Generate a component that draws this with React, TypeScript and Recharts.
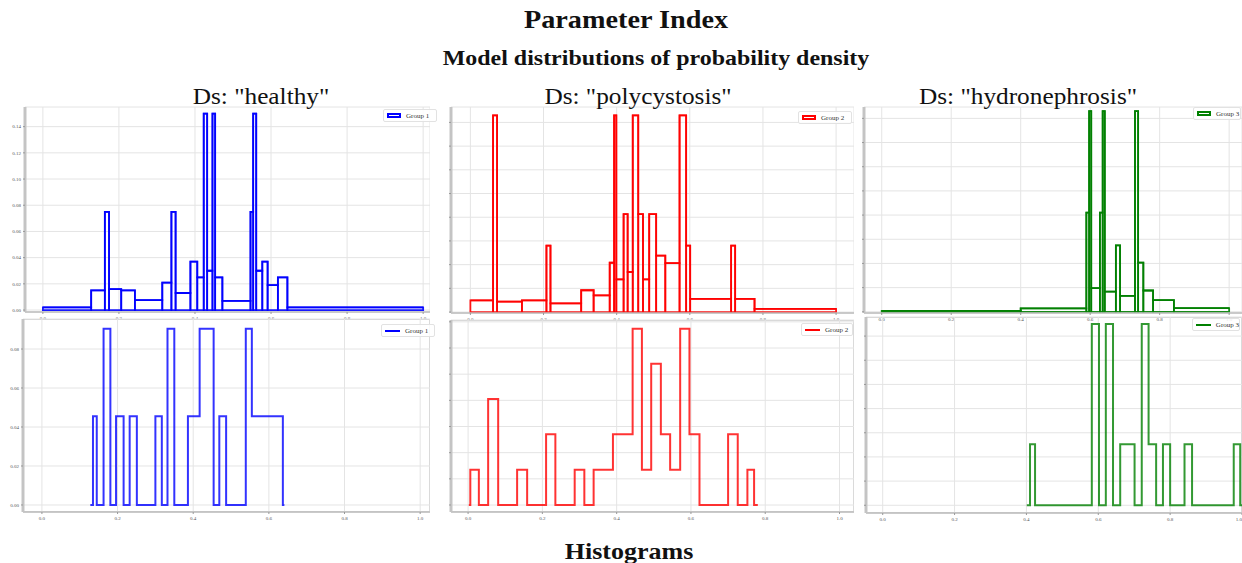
import {
  ComposedChart,
  Line,
  XAxis,
  YAxis,
  CartesianGrid,
  ReferenceArea,
} from "recharts";

// top row: model densities (variable-width bins)
const healthyEdges = [0.0, 0.127, 0.163, 0.174, 0.206, 0.242, 0.314, 0.338, 0.349, 0.388, 0.406, 0.423, 0.432, 0.446, 0.453, 0.472, 0.546, 0.553, 0.561, 0.577, 0.591, 0.618, 0.643, 1.0];
const healthyDensity = [0.002, 0.015, 0.075, 0.016, 0.015, 0.0075, 0.021, 0.075, 0.013, 0.037, 0.025, 0.15, 0.03, 0.15, 0.025, 0.007, 0.075, 0.15, 0.03, 0.037, 0.019, 0.025, 0.002];

const polyEdges = [0.0, 0.062, 0.073, 0.141, 0.208, 0.219, 0.303, 0.337, 0.381, 0.393, 0.399, 0.419, 0.43, 0.444, 0.459, 0.472, 0.489, 0.508, 0.533, 0.572, 0.59, 0.601, 0.713, 0.724, 0.777, 1.0];
const polyDensity = [0.49, 8.3, 0.44, 0.49, 2.8, 0.37, 0.92, 0.7, 2.08, 8.3, 1.38, 4.13, 1.69, 8.3, 4.13, 1.38, 4.13, 2.38, 2.06, 8.3, 2.8, 0.56, 2.8, 0.56, 0.13];

const hydroEdges = [0.0, 0.4, 0.589, 0.597, 0.603, 0.628, 0.636, 0.642, 0.674, 0.686, 0.729, 0.738, 0.753, 0.781, 0.841, 1.0];
const hydroDensity = [0.04, 0.14, 4.1, 8.3, 0.98, 4.1, 8.3, 0.83, 2.75, 0.66, 8.3, 2.03, 0.88, 0.48, 0.15];

// bottom row: histograms drawn as step lines
const healthyHistX = [0.128, 0.135, 0.145, 0.163, 0.181, 0.196, 0.216, 0.232, 0.251, 0.3, 0.317, 0.332, 0.35, 0.386, 0.417, 0.454, 0.469, 0.487, 0.539, 0.555, 0.637, 0.641];
const healthyHistY = [0, 0.0455, 0, 0.0904, 0, 0.0455, 0, 0.0455, 0, 0.0455, 0, 0.0904, 0, 0.0455, 0.0904, 0, 0.0455, 0, 0.0904, 0.0455, 0, 0];

const polyHistX = [0.002, 0.006, 0.029, 0.054, 0.081, 0.132, 0.159, 0.21, 0.235, 0.287, 0.313, 0.338, 0.39, 0.443, 0.468, 0.493, 0.519, 0.544, 0.571, 0.596, 0.623, 0.7, 0.726, 0.752, 0.77, 0.78];
const polyHistY = [0, 1.35, 0, 4.05, 0, 1.35, 0, 2.7, 0, 1.35, 0, 1.35, 2.7, 6.74, 1.35, 5.4, 2.7, 1.35, 6.74, 2.7, 0, 2.7, 0, 1.35, 0, 0];

const hydroHistX = [0.401, 0.41, 0.424, 0.582, 0.602, 0.621, 0.641, 0.661, 0.701, 0.721, 0.74, 0.761, 0.78, 0.8, 0.84, 0.861, 0.977, 0.995, 1.02];
const hydroHistY = [0, 2.52, 0, 7.5, 0, 7.5, 0, 2.52, 0, 7.5, 2.52, 0, 2.52, 0, 2.52, 0, 2.52, 0, 0];

const xTicks = [0, 0.2, 0.4, 0.6, 0.8, 1.0];
const healthyDensityTicks = [0, 0.02, 0.04, 0.06, 0.08, 0.1, 0.12, 0.14];
const healthyHistTicks = [0, 0.02, 0.04, 0.06, 0.08];
const gridTicks = [0, 1, 2, 3, 4, 5, 6, 7, 8];

const SERIF = "'Liberation Serif', 'Times New Roman', serif";

interface Box {
  left: number;
  top: number;
  width: number;
  height: number;
}

interface PanelProps {
  box: Box;
  xDomain: [number, number];
  yDomain: [number, number];
  yTicks: number[];
  yDigits: number | null;
  color: string;
  edges?: number[];
  heights?: number[];
  stepX?: number[];
  stepY?: number[];
  legend: string;
  legendBox: Box;
  frame?: boolean;
}

const Panel = ({ box, xDomain, yDomain, yTicks, yDigits, color, edges, heights, stepX, stepY, legend, legendBox, frame }: PanelProps) => {
  const isHist = !!edges && !!heights;
  const data = isHist
    ? [...heights!.map((h, i) => ({ x: edges![i], y: h })), { x: edges![edges!.length - 1], y: heights![heights!.length - 1] }]
    : stepX!.map((x, i) => ({ x, y: stepY![i] }));
  const ticksIn = yTicks.filter((t) => t >= yDomain[0] && t <= yDomain[1]);
  const tick = { fontSize: 5, fill: "#555", fontFamily: SERIF };

  return (
    <>
      {frame && (
        <div
          style={{
            position: "absolute",
            left: box.left + 15,
            top: box.top + 3,
            width: box.width - 15,
            height: box.height - 15,
            border: "1px solid #cfcfcf",
            boxSizing: "border-box",
          }}
        />
      )}
      <div style={{ position: "absolute", left: box.left, top: box.top }}>
        <ComposedChart width={box.width} height={box.height} data={data} margin={{ top: 3, right: 0, bottom: 0, left: 0 }}>
          <CartesianGrid stroke="#e4e4e4" strokeWidth={1} />
          <XAxis
            type="number"
            dataKey="x"
            domain={xDomain}
            ticks={xTicks}
            allowDataOverflow
            height={12}
            tick={tick}
            tickSize={2}
            tickFormatter={(v: number) => v.toFixed(1)}
            axisLine={{ stroke: "#bdbdbd", strokeWidth: 1.5 }}
            tickLine={{ stroke: "#999" }}
          />
          <YAxis
            type="number"
            domain={yDomain}
            ticks={ticksIn}
            allowDataOverflow
            width={15}
            tick={tick}
            tickSize={2}
            tickFormatter={(v: number) => (yDigits === null ? "" : v.toFixed(yDigits))}
            axisLine={{ stroke: "#c4c4c4", strokeWidth: 3 }}
            tickLine={{ stroke: "#999" }}
          />
          {isHist &&
            heights!.map((h, i) => (
              <ReferenceArea
                key={i}
                x1={edges![i]}
                x2={edges![i + 1]}
                y1={0}
                y2={h}
                fill="#ffffff"
                fillOpacity={0}
                stroke={color}
                strokeWidth={1.8}
                strokeOpacity={0.9}
                ifOverflow="hidden"
              />
            ))}
          <Line
            type="stepAfter"
            dataKey="y"
            stroke={color}
            strokeWidth={isHist ? 1.8 : 2}
            strokeOpacity={isHist ? 0.9 : 0.8}
            dot={false}
            isAnimationActive={false}
          />
        </ComposedChart>
      </div>
      <div
        style={{
          position: "absolute",
          left: legendBox.left,
          top: legendBox.top,
          width: legendBox.width,
          height: legendBox.height,
          border: "1px solid #e2e2e2",
          borderRadius: 2,
          background: "rgba(255,255,255,0.85)",
          display: "flex",
          alignItems: "center",
          gap: 5,
          paddingLeft: 3,
          boxSizing: "border-box",
          fontFamily: SERIF,
          fontSize: 7,
          color: "#333",
          whiteSpace: "nowrap",
        }}
      >
        {isHist ? (
          <span style={{ display: "inline-block", width: 14, height: 5, border: `2px solid ${color}`, boxSizing: "border-box" }} />
        ) : (
          <span style={{ display: "inline-block", width: 15, height: 2, background: color }} />
        )}
        <span>{legend}</span>
      </div>
    </>
  );
};

const titleStyle = (top: number, center: number, size: number, bold: boolean, stretch: number): React.CSSProperties => ({
  position: "absolute",
  top,
  left: center - 300,
  width: 600,
  textAlign: "center",
  fontFamily: SERIF,
  fontSize: size,
  fontWeight: bold ? 700 : 400,
  lineHeight: 1,
  color: "#111",
  whiteSpace: "nowrap",
  transform: `scaleX(${stretch})`,
  transformOrigin: "center",
});

export default function App() {
  return (
    <div style={{ position: "absolute", left: 0, top: 0, width: 1242, height: 563, background: "#fff", overflow: "hidden" }}>
      <Panel
        box={{ left: 10, top: 104, width: 420, height: 220 }}
        xDomain={[-0.047, 1.018]}
        yDomain={[-0.0015, 0.155]}
        yTicks={healthyDensityTicks}
        yDigits={2}
        color="#0000ff"
        edges={healthyEdges}
        heights={healthyDensity}
        legend="Group 1"
        legendBox={{ left: 383, top: 109, width: 54, height: 13 }}
      />
      <Panel
        box={{ left: 436, top: 104, width: 418, height: 221 }}
        xDomain={[-0.053, 1.049]}
        yDomain={[-0.04, 8.65]}
        yTicks={gridTicks}
        yDigits={null}
        color="#ff0000"
        edges={polyEdges}
        heights={polyDensity}
        legend="Group 2"
        legendBox={{ left: 798, top: 111, width: 54, height: 13 }}
      />
      <Panel
        box={{ left: 849, top: 104, width: 393, height: 221 }}
        xDomain={[-0.051, 1.037]}
        yDomain={[-0.05, 8.47]}
        yTicks={gridTicks}
        yDigits={null}
        color="#008000"
        edges={hydroEdges}
        heights={hydroDensity}
        legend="Group 3"
        legendBox={{ left: 1193, top: 107, width: 48, height: 13 }}
      />
      <Panel
        box={{ left: 8, top: 316, width: 422, height: 208 }}
        xDomain={[-0.05, 1.026]}
        yDomain={[-0.0036, 0.0954]}
        yTicks={healthyHistTicks}
        yDigits={2}
        color="#0000ff"
        stepX={healthyHistX}
        stepY={healthyHistY}
        legend="Group 1"
        legendBox={{ left: 381, top: 324, width: 54, height: 13 }}
        frame
      />
      <Panel
        box={{ left: 436, top: 317, width: 418, height: 207 }}
        xDomain={[-0.046, 1.039]}
        yDomain={[-0.267, 7.07]}
        yTicks={gridTicks}
        yDigits={null}
        color="#ff0000"
        stepX={polyHistX}
        stepY={polyHistY}
        legend="Group 2"
        legendBox={{ left: 801, top: 323, width: 52, height: 13 }}
        frame
      />
      <Panel
        box={{ left: 851, top: 314, width: 391, height: 211 }}
        xDomain={[-0.0465, 1.0]}
        yDomain={[-0.32, 7.79]}
        yTicks={gridTicks}
        yDigits={null}
        color="#008000"
        stepX={hydroHistX}
        stepY={hydroHistY}
        legend="Group 3"
        legendBox={{ left: 1192, top: 318, width: 48, height: 13 }}
        frame
      />

      <div style={titleStyle(7, 626, 25, true, 1.13)}>Parameter Index</div>
      <div style={titleStyle(48, 656, 21, true, 1.14)}>Model distributions of probability density</div>
      <div style={titleStyle(85, 261, 23, false, 1.1)}>Ds: "healthy"</div>
      <div style={titleStyle(85, 638, 23, false, 1.1)}>Ds: "polycystosis"</div>
      <div style={titleStyle(85, 1028, 23, false, 1.1)}>Ds: "hydronephrosis"</div>
      <div style={titleStyle(540, 629, 23, true, 1.13)}>Histograms</div>
    </div>
  );
}
